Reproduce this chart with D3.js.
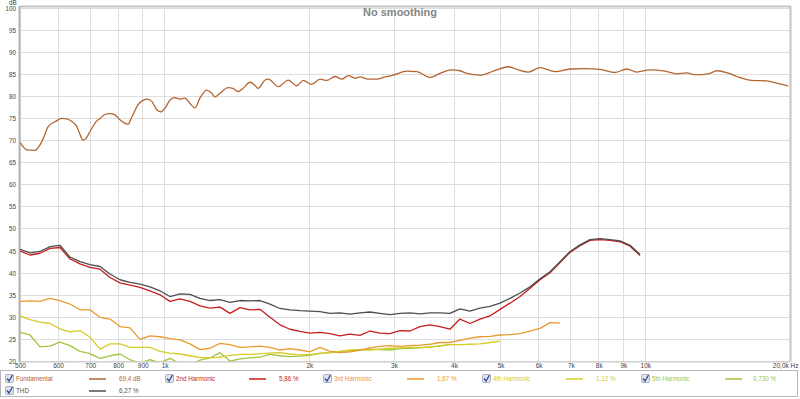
<!DOCTYPE html>
<html><head><meta charset="utf-8">
<script src="https://cdn.jsdelivr.net/npm/d3@7"></script>
<style>
body{margin:0;background:#fff;}
svg{display:block;font-family:"Liberation Sans",Arial,sans-serif;}
</style></head>
<body>
<svg id="chart" width="800" height="399"></svg>
<script>
// ---------- DATA ----------
const title = "No smoothing";
const xTickValues = [500,600,700,800,900,1000,2000,3000,4000,5000,6000,7000,8000,9000,10000,20000];
const xTickLabels = ["500","600","700","800","900","1k","2k","3k","4k","5k","6k","7k","8k","9k","10k","20,0k Hz"];
const yTickValues = [20,25,30,35,40,45,50,55,60,65,70,75,80,85,90,95,100];

// Fundamental (Hz / dB)
const fundFreq = [500,517,537,556,572,592,612,626,641,657,667,676,686,699,720,734,751,770,788,807,827,839,855,880,901,919,941,964,983,1001,1026,1050,1076,1102,1129,1156,1184,1223,1250,1272,1303,1355,1387,1421,1455,1505,1540,1564,1618,1643,1723,1808,1882,1943,2022,2105,2174,2262,2336,2411,2489,2549,2653,2762,2874,2990,3189,3345,3565,3740,3957,4117,4251,4532,4828,5188,5442,5709,6039,6490,6972,7490,8049,8649,9149,9596,10230,10993,11627,12197,12695,13527,14082,14768,15496,16650,17889,18770,19840];
const fundDb = [69.6,67.9,67.8,69.9,73.1,74.3,75.0,74.9,74.3,73.1,71.3,70.1,70.5,72.0,74.3,75.0,75.9,76.1,75.8,74.7,73.9,73.7,75.4,78.1,79.1,79.4,78.8,76.9,76.5,77.3,79.2,79.7,79.4,79.6,78.4,77.4,79.6,81.4,80.8,79.9,80.7,82.0,81.8,81.1,81.8,83.2,82.5,81.8,83.7,83.9,82.2,83.7,82.4,83.6,82.7,83.9,83.6,84.5,83.9,84.7,84.1,84.4,83.9,83.9,84.4,84.8,85.7,85.6,84.3,85.2,86.0,85.8,85.2,84.8,85.7,86.7,86.0,85.5,86.5,85.6,86.2,86.3,86.1,85.4,86.2,85.5,86.0,85.7,85.1,85.3,84.9,85.1,85.8,85.4,84.5,83.6,83.5,83.0,82.4];

// common frequency grid for distortion curves (Hz)
const hFreq = [500,524.5,550.3,577.3,605.6,635.3,666.5,699.2,733.5,769.5,807.3,846.9,888.4,932.0,977.7,1025.7,1076.0,1128.8,1184.2,1242.3,1303.3,1367.3,1434.3,1504.7,1578.6,1656.0,1737.3,1822.5,1911.9,2005.8,2104.2,2207.4,2315.8,2429.4,2548.6,2673.6,2804.8,2942.5,3086.8,3238.3,3397.2,3563.9,3738.8,3922.2,4114.7,4316.6,4528.4,4750.6,4985.9,5230.6,5487.2,5756.6,6039.2,6335.6,6646.6,6972.9,7315.2,7674.3,8051.0,8446.2,8860.8,9295.8,9752.1];

const thdDb = [45.4,44.6,44.9,46.0,46.3,43.6,42.6,41.9,41.5,39.8,38.5,37.9,37.5,36.9,36.0,34.7,35.3,35.2,34.3,33.8,34.0,33.4,33.8,33.7,33.8,33.0,32.0,31.7,31.5,31.4,31.3,30.9,31.0,30.7,31.0,31.2,30.9,30.6,30.9,31.0,30.8,31.0,31.0,30.9,31.9,31.4,32.1,32.5,33.2,34.3,35.5,36.9,38.7,40.3,42.6,44.9,46.4,47.6,47.8,47.6,47.3,46.3,44.2];
const h2Db = [45.0,44.1,44.5,45.6,45.8,43.2,42.1,41.3,40.9,39.0,37.8,37.3,36.8,36.0,35.1,33.6,34.2,33.6,32.6,32.1,32.3,30.9,32.2,31.7,31.8,30.0,28.3,27.3,26.8,26.4,26.6,26.3,25.8,26.2,25.9,26.9,26.4,26.3,27.0,26.9,27.9,28.3,27.9,27.3,29.6,28.6,29.6,30.3,31.8,33.2,34.7,36.6,38.5,40.1,42.4,44.7,46.2,47.4,47.6,47.4,47.1,46.1,44.0];
const h3Db = [33.6,33.7,33.6,34.3,33.8,33.0,31.7,31.7,30.0,29.6,27.9,27.6,25.0,25.8,25.6,25.2,24.9,24.0,22.7,23.0,24.1,23.8,23.2,23.3,23.5,23.2,22.6,22.9,22.6,22.2,23.2,22.3,22.0,22.2,22.6,23.1,23.4,23.6,23.4,23.6,23.7,23.9,24.3,24.3,24.8,25.3,25.6,25.7,26.0,26.1,26.3,26.9,27.5,28.8,28.7];
const h4Db = [30.3,29.5,28.9,28.6,27.4,26.7,27.0,25.5,22.8,24.0,24.0,23.2,23.2,23.2,22.3,21.9,21.7,21.3,20.9,20.8,21.0,21.4,21.6,21.6,21.8,21.9,22.0,21.7,21.5,21.6,21.8,22.0,22.3,22.6,22.7,22.6,22.8,23.0,23.1,23.2,23.2,23.2,23.6,23.8,23.8,23.9,24.0,24.3,24.6];
const h5Db = [26.6,26.0,23.3,23.5,24.4,23.6,22.3,21.8,20.7,21.3,21.7,20.4,19.6,20.4,19.7,20.7,19.5,19.2,20.3,20.8,22.0,20.1,20.6,20.8,21.0,21.6,21.3,21.1,21.2,21.4,21.9,22.0,22.3,22.4,22.6,22.8,22.7,22.6,22.9,23.0,23.1,23.3,23.5,23.8];

const seriesNames = ["Fundamental","2nd Harmonic","3rd Harmonic","4th Harmonic","5th Harmonic","THD"];
const seriesValues = ["69,4 dB","5,86 %","1,67 %","1,12 %","0,730 %","6,27 %"];
const seriesColors = ["#b4652f","#c81e1e","#e89a2c","#d6cc28","#a2c63e","#4e4e4e"];

// ---------- CHART ----------
const svg = d3.select("#chart");
const L = 20, R = 790, T = 8, B = 361.5;
const x = d3.scaleLog().domain([500,20000]).range([L,R]);
const y = d3.scaleLinear().domain([20,100]).range([B,T]);

// grid
svg.append("g").selectAll("line").data(yTickValues).join("line")
  .attr("x1",L).attr("x2",R).attr("y1",d=>y(d)).attr("y2",d=>y(d))
  .attr("stroke","#dedede").attr("stroke-width",1).attr("shape-rendering","crispEdges");
svg.append("g").selectAll("line").data(xTickValues).join("line")
  .attr("x1",d=>x(d)).attr("x2",d=>x(d)).attr("y1",T).attr("y2",B)
  .attr("stroke","#dedede").attr("stroke-width",1).attr("shape-rendering","crispEdges");

// frame
svg.append("line").attr("x1",L).attr("x2",R+1).attr("y1",T-1.5).attr("y2",T-1.5).attr("stroke","#c4c4c4").attr("stroke-width",2);
svg.append("line").attr("x1",R+0.5).attr("x2",R+0.5).attr("y1",T-2).attr("y2",B).attr("stroke","#c4c4c4").attr("stroke-width",2);
svg.append("line").attr("x1",L).attr("x2",R).attr("y1",B+0.5).attr("y2",B+0.5).attr("stroke","#c8c8c8").attr("stroke-width",1);
svg.append("line").attr("x1",L-0.5).attr("x2",L-0.5).attr("y1",T-2).attr("y2",B+1).attr("stroke","#b4b4b4").attr("stroke-width",2);

// axes (text only)
const xAxis = d3.axisBottom(x).tickValues(xTickValues).tickFormat((d,i)=>xTickLabels[i]).tickSize(0).tickPadding(0);
const gx = svg.append("g").attr("transform",`translate(0,${B+2})`).call(xAxis);
gx.select(".domain").remove();
gx.selectAll("text").attr("font-size",6.5).attr("fill","#444").attr("dy","0.71em")
  .attr("text-anchor",(d,i)=>i===xTickLabels.length-1?"end":"middle")
  .attr("dx",(d,i)=>i===xTickLabels.length-1?8:0);

const yAxis = d3.axisLeft(y).tickValues(yTickValues).tickSize(0).tickPadding(4);
const gy = svg.append("g").attr("transform",`translate(${L},0)`).call(yAxis);
gy.select(".domain").remove();
gy.selectAll("text").attr("font-size",6.3).attr("fill","#444");
svg.append("text").attr("x",9).attr("y",5).attr("font-size",6.3).attr("fill","#444").text("dB");

// title
svg.append("text").attr("x",400).attr("y",16).attr("text-anchor","middle")
  .attr("font-size",11).attr("font-weight","bold").attr("fill","#858585").text(title);

// curves
svg.append("clipPath").attr("id","clip").append("rect").attr("x",L).attr("y",T).attr("width",R-L).attr("height",B-T);
const plot = svg.append("g").attr("clip-path","url(#clip)");
const smooth = d3.line().x(d=>x(d[0])).y(d=>y(d[1])).curve(d3.curveMonotoneX);
const jagged = d3.line().x(d=>x(d[0])).y(d=>y(d[1])).curve(d3.curveLinear);
const mk = (fr, vals) => vals.map((v,i)=>[fr[i],v]);
const curves = [
  [mk(hFreq,h5Db),4,jagged],[mk(hFreq,h4Db),3,jagged],[mk(hFreq,h3Db),2,jagged],
  [mk(hFreq,h2Db),1,jagged],[mk(hFreq,thdDb),5,jagged],[mk(fundFreq,fundDb),0,smooth]
];
curves.forEach(([pts,ci,gen])=>{
  plot.append("path").attr("d",gen(pts)).attr("fill","none")
    .attr("stroke",seriesColors[ci]).attr("stroke-width",1.3).attr("stroke-linejoin","round");
});

// legend
const lg = svg.append("g");
lg.append("rect").attr("x",0.5).attr("y",370.5).attr("width",797).attr("height",26).attr("fill","#fff").attr("stroke","#b8b8b8");
const colX = [5,165,323,482,641];
const legendItems = seriesNames.map((n,i)=>({n, v:seriesValues[i], c:seriesColors[i],
  cx: i<5 ? colX[i] : colX[0], cy: i<5 ? 379 : 391}));
legendItems.forEach(it=>{
  const g = lg.append("g").attr("transform",`translate(${it.cx},${it.cy})`);
  g.append("rect").attr("x",0.5).attr("y",-4.5).attr("width",8).attr("height",8).attr("rx",1)
    .attr("fill","#dfe4ec").attr("stroke","#9aa3b0").attr("stroke-width",0.8);
  g.append("path").attr("d","M2,-0.5 L4,2 L7.5,-4").attr("fill","none").attr("stroke","#2a4f9a").attr("stroke-width",1.3);
  g.append("text").attr("x",11).attr("y",2.3).attr("font-size",6.3).attr("fill",it.c==="#4e4e4e"?"#555":it.c).text(it.n);
  g.append("line").attr("x1",84).attr("x2",101).attr("y1",0).attr("y2",0).attr("stroke",it.c).attr("stroke-width",1.5);
  g.append("text").attr("x",it.n==="5th Harmonic"?112:114).attr("y",2.3).attr("font-size",6.3).attr("fill",it.c==="#4e4e4e"?"#555":it.c).text(it.v);
});
</script>
</body></html>
